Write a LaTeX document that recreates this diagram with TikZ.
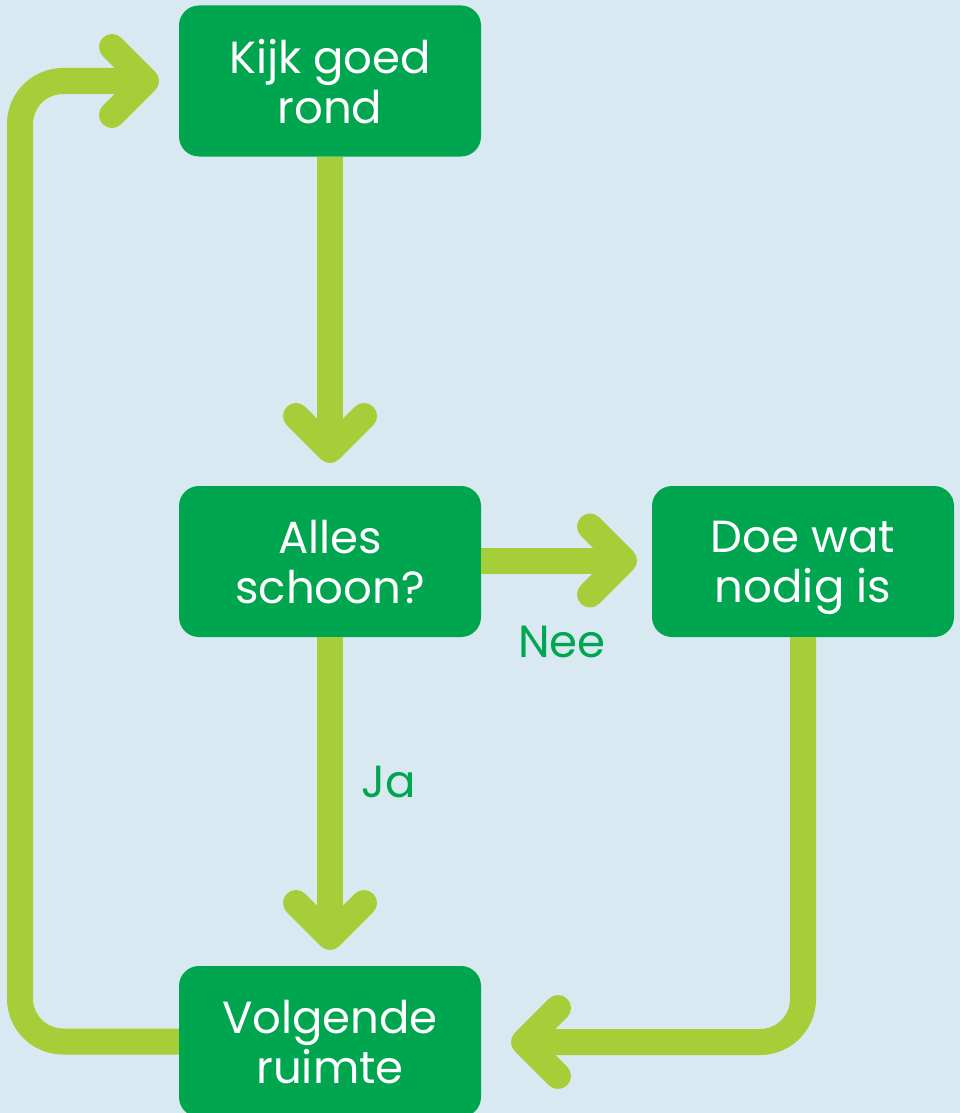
\documentclass[tikz,border=0pt]{standalone}
\usepackage{fontspec}
\setmainfont{Poppins}
\definecolor{bgc}{HTML}{D8E9F1}
\definecolor{boxg}{HTML}{00A54F}
\definecolor{arrg}{HTML}{A6CE39}
\begin{document}
\begin{tikzpicture}[x=1pt,y=-1pt,
  box/.style={fill=boxg, rounded corners=20pt, minimum width=302pt, minimum height=151pt,
    text=white, align=center, inner sep=0pt, font=\fontsize{45}{50}\selectfont,
    text depth=0pt},
  shaft/.style={draw=arrg, line width=26pt},
  chev/.style={draw=arrg, line width=26pt, line cap=round, line join=round},
  lbl/.style={text=boxg, font=\fontsize{45}{50}\selectfont, inner sep=0pt}]
\fill[bgc] (0,0) rectangle (960,1113);
\useasboundingbox (0,0) rectangle (960,1113);

\node[box] (kijk) at (330,81) {Kijk goed\\rond};
\node[box] (alles) at (330,561.5) {Alles\\schoon?};
\node[box] (doe) at (803,561.5) {Doe wat\\nodig is};
\node[box] (volg) at (330,1041.5) {Volgende\\ruimte};

\coordinate (t1) at (330,450);
\coordinate (t2) at (624,560.5);
\coordinate (t3) at (330,937);
\coordinate (t4) at (524,1042);
\coordinate (t5) at (146,81);
\coordinate (c1) at (20,81);

% Kijk -> Alles
\draw[shaft] (kijk.south) -- ([yshift=-4pt]t1);
\draw[chev] (t1) ++(-34,-34) -- (t1) -- ++(34,-34);
% Alles -> Doe
\draw[shaft] (alles.east |- t2) -- ([xshift=-4pt]t2);
\draw[chev] (t2) ++(-34,-34) -- (t2) -- ++(-34,34);
% Alles -> Volgende
\draw[shaft] (alles.south) -- ([yshift=-4pt]t3);
\draw[chev] (t3) ++(-34,-34) -- (t3) -- ++(34,-34);
% Doe -> Volgende
\draw[shaft, rounded corners=43pt] (doe.south) |- ([xshift=4pt]t4);
\draw[chev] (t4) ++(34,-34) -- (t4) -- ++(34,34);
% Volgende -> Kijk
\draw[shaft, rounded corners=43pt] (volg.west) -| (c1) -- ([xshift=-4pt]t5);
\draw[chev] (t5) ++(-34,-34) -- (t5) -- ++(-34,34);

\node[lbl] (nee) at (562,642) {Nee};
\node[lbl] (ja) at (389,782) {Ja};
\end{tikzpicture}
\end{document}
